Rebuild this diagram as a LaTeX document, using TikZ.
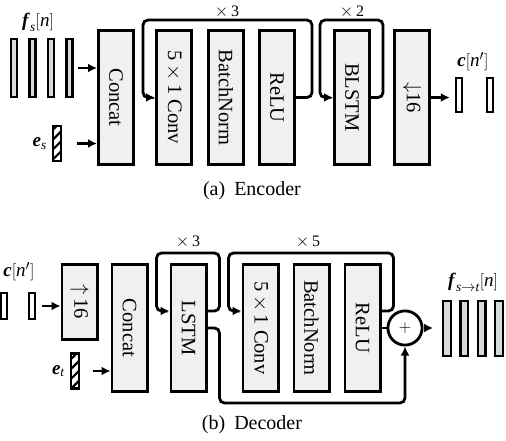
\documentclass[tikz,border=0pt]{standalone}
\usepackage{amsmath}
\usepackage{fontspec}
\setmainfont{Liberation Serif}
\usepackage{graphicx}
\usetikzlibrary{positioning,arrows.meta,patterns.meta}

\newcommand{\bvec}[1]{\textbf{\textit{#1}}}
\newcommand{\vtext}[1]{\rotatebox{-90}{#1}}

\begin{document}
\begin{tikzpicture}[x=1pt,y=1pt,
  blk/.style={draw,line width=2.8pt,fill=gray!12,inner sep=0pt,minimum width=35.2pt,font=\fontsize{20.5}{24}\selectfont},
  enc/.style={blk,minimum height=134.2pt},
  dec/.style={blk,minimum height=127.2pt},
  feat/.style={draw,line width=2.3pt,fill=gray!30,inner sep=0pt,minimum width=6.2pt,minimum height=57.7pt},
  code/.style={draw,line width=2.3pt,fill=white,inner sep=0pt,minimum width=6pt,minimum height=34pt},
  spk/.style={draw,line width=2.3pt,inner sep=0pt,minimum width=8pt,minimum height=35pt,pattern={Lines[angle=45,distance=7pt,line width=2.2pt]}},
  lbl/.style={inner sep=1pt,font=\fontsize{19}{21}\selectfont},
  rep/.style={inner sep=0pt,font=\fontsize{16}{18}\selectfont},
  captxt/.style={inner sep=1pt,font=\fontsize{20}{24}\selectfont},
  arr/.style={-{Latex[length=9pt,width=9pt]},line width=2.8pt},
  cyc/.style={arr,rounded corners=5pt}]
\useasboundingbox (0,0) rectangle (506,440);

% encoder
\node    (ecat)    [enc]                    at (116,342.5)  {\vtext{Concat}};
\node    (econv)   [enc,right=20pt of ecat]                 {\vtext{5\,$\times$\,1 Conv}};
\node    (ebn)     [enc,right=14pt of econv]                {\vtext{BatchNorm}};
\node    (erelu)   [enc,right=13pt of ebn]                  {\vtext{ReLU}};
\node    (eblstm)  [enc,right=37pt of erelu]                {\vtext{BLSTM}};
\node    (edown)   [enc,right=22pt of eblstm]               {\vtext{$\downarrow$16}};

\node    (efs1)    [feat]                   at (14,372)     {};
\node    (efs2)    [feat,right=10pt of efs1]                {};
\node    (efs3)    [feat,right=10pt of efs2]                {};
\node    (efs4)    [feat,right=10pt of efs3]                {};
\node    (efsl)    [lbl]                    at (38,418)     {$\bvec{f}_{\textit{s}}[\textit{n}]$};
\node    (ees)     [spk]                    at (57,296.5)   {};
\node    (eesl)    [lbl,left=4pt of ees]                    {$\bvec{e}_{\textit{s}}$};

\path    (efs4)       edge[arr,shorten <=4pt]     (ecat.west |- efs4);
\path    (ees)        edge[arr,shorten <=15pt]    (ecat.west |- ees);

\coordinate (etop) at (0,420);
\draw[cyc] (erelu.east) -- ++(16,0) |- ([xshift=-12pt]econv.west |- etop) |- (econv.west);
\draw[cyc] (eblstm.east) -- ++(12,0) |- ([xshift=-13pt]eblstm.west |- etop) |- (eblstm.west);
\node    (erep3)   [rep]                    at (227,428)    {$\times$\,3};
\node    (erep2)   [rep]                    at (352,428)    {$\times$\,2};

\node    (ec1)     [code]                   at (459,345)    {};
\node    (ec2)     [code,right=23pt of ec1]                 {};
\node    (ecl)     [lbl]                    at (473,378)    {$\bvec{c}[\textit{n}']$};
\path    (edown.east) edge[arr,shorten >=5pt]     (ec1.west |- edown.east);

\node    (ecap)    [captxt]                 at (252,249)    {(a)\hspace{0.45em}Encoder};

% decoder
\node    (dcat)    [dec]                    at (129.5,112)  {\vtext{Concat}};
\node    (dup)     [blk,minimum height=75.2pt,left=12pt of dcat.north west,anchor=north east] {\vtext{$\uparrow$\,16}};
\node    (dlstm)   [dec,right=21pt of dcat]                 {\vtext{LSTM}};
\node    (dconv)   [dec,right=34pt of dlstm]                {\vtext{5\,$\times$\,1 Conv}};
\node    (dbn)     [dec,right=13pt of dconv]                {\vtext{BatchNorm}};
\node    (drelu)   [dec,right=13pt of dbn]                  {\vtext{ReLU}};
\node    (dsum)    [circle,draw,line width=2.8pt,fill=white,inner sep=0pt,minimum size=34.2pt,
                    right=5pt of drelu,font=\fontsize{18}{20}\selectfont] {$+$};

\node    (dc1)     [code,minimum height=26pt] at (4,134)    {};
\node    (dc2)     [code,minimum height=26pt,right=20pt of dc1] {};
\node    (dcl)     [lbl]                    at (19,168)     {$\bvec{c}[\textit{n}']$};
\node    (det)     [spk]                    at (75,69)      {};
\node    (detl)    [lbl,left=4pt of det]                    {$\bvec{e}_{\textit{t}}$};

\path    (dc2.east)   edge[arr,shorten <=6pt]     (dup.west |- dc2.east);
\path    (det)        edge[arr,shorten <=13pt]    (dcat.west |- det);

\coordinate (dtop) at (0,187);
\coordinate (dbot) at (0,37);
\draw[cyc] ([yshift=17pt]dlstm.east) -- ++(12,0) |- ([xshift=-13pt]dlstm.west |- dtop) |- ([yshift=17pt]dlstm.west);
\draw[cyc] ([yshift=17pt]drelu.east) -- ++(12,0) |- ([xshift=-13pt]dconv.west |- dtop) |- ([yshift=17pt]dconv.west);
\draw[cyc] (dlstm.east) -- ++(12,0) |- (dsum |- dbot) -- (dsum.south);
\node    (drep3)   [rep]                    at (188,198)    {$\times$\,3};
\node    (drep5)   [rep]                    at (308,198)    {$\times$\,5};

\node    (df1)     [feat,minimum width=7.5pt,minimum height=55pt] at (447,111.5) {};
\node    (df2)     [feat,minimum width=7.5pt,minimum height=55pt,right=7.5pt of df1] {};
\node    (df3)     [feat,minimum width=7.5pt,minimum height=55pt,right=7.5pt of df2] {};
\node    (df4)     [feat,minimum width=7.5pt,minimum height=55pt,right=7.5pt of df3] {};
\node    (dfl)     [lbl]                    at (473,158)    {$\bvec{f}_{\textit{s}\rightarrow\textit{t}}[\textit{n}]$};

\path    (drelu.east) edge[line width=2.8pt]      (dsum.west);
\path    (dsum.east)  edge[arr,shorten >=9pt]     (df1.west |- dsum.east);

\node    (dcap)    [captxt]                 at (252,15)     {(b)\hspace{0.45em}Decoder};
\end{tikzpicture}
\end{document}
